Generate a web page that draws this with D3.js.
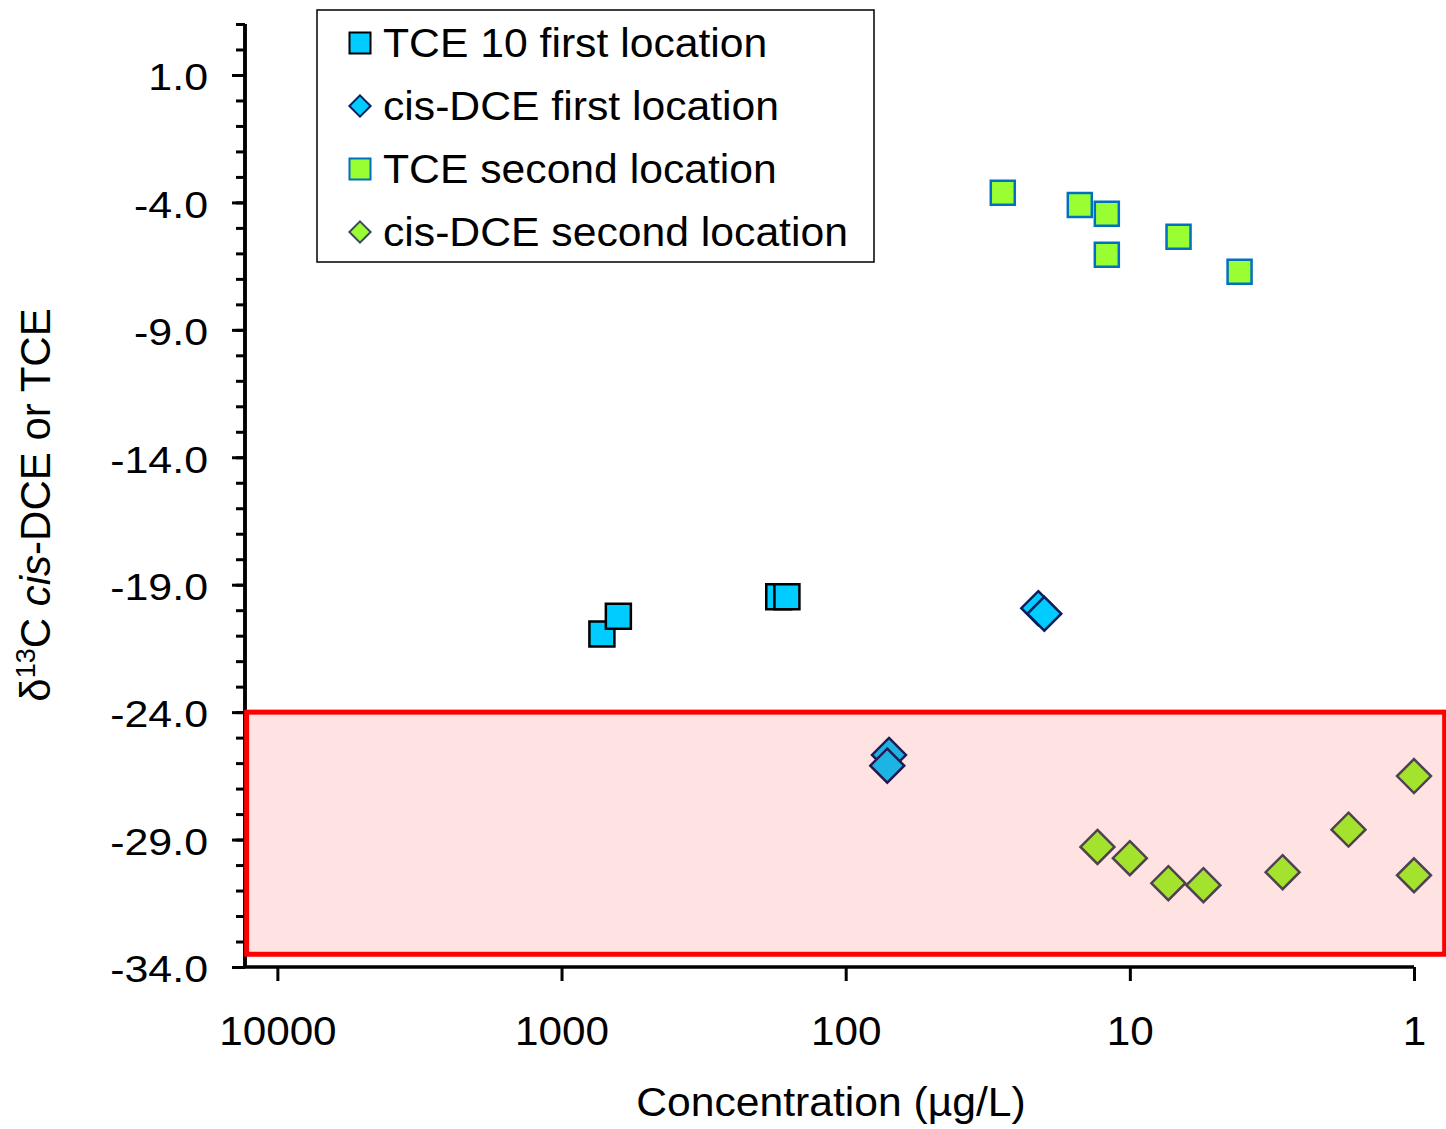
<!DOCTYPE html>
<html>
<head>
<meta charset="utf-8">
<script src="https://cdn.jsdelivr.net/npm/d3@7"></script>
<style>
  html, body { margin: 0; padding: 0; background: #ffffff; }
  svg { display: block; font-family: "Liberation Sans", Arial, sans-serif; }
</style>
</head>
<body>
<svg id="chart" width="1446" height="1129"></svg>
<script>
// Series: concentration (µg/L) and δ13C (‰)
const tceFirstConc = [721, 631, 172, 161];
const tceFirstD13C = [-20.93, -20.24, -19.47, -19.47];

const dceFirstConc = [21.0, 20.0, 70.4, 71.4];
const dceFirstD13C = [-19.92, -20.14, -25.68, -26.10];

const tceSecondConc = [28.0, 15.0, 12.05, 12.05, 6.74, 4.11];
const tceSecondD13C = [-3.62, -4.10, -4.45, -6.05, -5.35, -6.72];

const dceSecondConc = [13.0, 10.0, 7.32, 5.51, 2.90, 1.70, 1.0, 1.0];
const dceSecondD13C = [-29.29, -29.73, -30.71, -30.79, -30.28, -28.61, -26.51, -30.40];

// Axis settings
const xTickValues = [10000, 1000, 100, 10, 1];
const yMajorTicks = [1, -4, -9, -14, -19, -24, -29, -34];
const yMinorTicks = d3.range(-34, 4, 1);

// Highlighted band (concentration range, δ13C range)
const bandConc = [12830, 0.78];
const bandD13C = [-24, -33.5];

const legendLabels = ["TCE 10 first location", "cis-DCE first location", "TCE second location", "cis-DCE second location"];

const svg = d3.select("#chart");

const x = d3.scaleLog().domain([13000, 1]).range([245, 1414]);
const y = d3.scaleLinear().domain([-34, 3]).range([967, 24]);

// Widen glyphs horizontally by factor k, keeping the anchor in place
function widen(sel, k) {
  sel.each(function () {
    const len = this.getComputedTextLength();
    d3.select(this).attr("textLength", len * k).attr("lengthAdjust", "spacingAndGlyphs");
  });
}

// Styles per series
const series = [
  { conc: tceFirstConc, d13c: tceFirstD13C, shape: "square", size: 25, fill: "#00ccff", stroke: "#000000", sw: 2.5 },
  { conc: dceFirstConc, d13c: dceFirstD13C, shape: "diamond", size: 24, fill: "#00ccff", stroke: "#0a1e5e", sw: 2.5 },
  { conc: tceSecondConc, d13c: tceSecondD13C, shape: "square", size: 24, fill: "#99ff33", stroke: "#0070c0", sw: 2.5 },
  { conc: dceSecondConc, d13c: dceSecondD13C, shape: "diamond", size: 24, fill: "#99ff33", stroke: "#3a4a5c", sw: 2.5 }
];

// Axes
const yMinor = svg.append("g")
  .attr("transform", "translate(245,0)")
  .call(d3.axisLeft(y).tickValues(yMinorTicks).tickSize(9).tickFormat(""));
const yMajor = svg.append("g")
  .attr("transform", "translate(245,0)")
  .call(d3.axisLeft(y).tickValues(yMajorTicks).tickSize(13).tickPadding(24).tickFormat(d => d.toFixed(1)));
const xAxis = svg.append("g")
  .attr("transform", "translate(0,967)")
  .call(d3.axisBottom(x).tickValues(xTickValues).tickSize(14).tickPadding(35).tickFormat(d => String(d)));

[yMinor, yMajor, xAxis].forEach(g => {
  g.select(".domain").attr("stroke", "#000").attr("stroke-width", 3.5);
  g.selectAll(".tick line").attr("stroke", "#000").attr("stroke-width", 3);
});
yMinor.select(".domain").attr("d", `M0,${y(3)}V${y(-34)}`);
yMajor.select(".domain").attr("d", `M0,${y(3)}V${y(-34)}`);
xAxis.select(".domain").attr("d", `M${x(13000) - 1.5},0H${x(1)}`);
yMajor.selectAll(".tick text").attr("font-size", 37).attr("fill", "#000")
  .attr("font-family", "Liberation Sans, Arial, sans-serif").attr("y", 3);
xAxis.selectAll(".tick text").attr("font-size", 41).attr("fill", "#000").attr("font-family", "Liberation Sans, Arial, sans-serif");
widen(yMajor.selectAll(".tick text"), 1.16);
widen(xAxis.selectAll(".tick text"), 1.03);

// Markers
function markerPath(shape, s) {
  const h = s / 2;
  if (shape === "square") return `M${-h},${-h}H${h}V${h}H${-h}Z`;
  const d = h * Math.SQRT2;
  return `M0,${-d}L${d},0L0,${d}L${-d},0Z`;
}

series.forEach(sr => {
  svg.append("g").selectAll("path")
    .data(sr.conc.map((c, i) => [c, sr.d13c[i]]))
    .join("path")
    .attr("transform", d => `translate(${x(d[0])},${y(d[1])})`)
    .attr("d", markerPath(sr.shape, sr.size))
    .attr("fill", sr.fill)
    .attr("stroke", sr.stroke)
    .attr("stroke-width", sr.sw)
    .attr("stroke-linejoin", "miter");
});

// Highlight band drawn over the markers
svg.append("rect")
  .attr("x", x(bandConc[0]))
  .attr("y", y(bandD13C[0]))
  .attr("width", x(bandConc[1]) - x(bandConc[0]))
  .attr("height", y(bandD13C[1]) - y(bandD13C[0]))
  .attr("fill", "rgba(255,0,0,0.11)")
  .attr("stroke", "#ff0000")
  .attr("stroke-width", 5);

// Legend
const legend = svg.append("g");
legend.append("rect")
  .attr("x", 317).attr("y", 10).attr("width", 557).attr("height", 252)
  .attr("fill", "#fff").attr("stroke", "#000").attr("stroke-width", 1.5);
legendLabels.forEach((lab, i) => {
  const cy = 43 + i * 63;
  const sr = series[i];
  legend.append("path")
    .attr("transform", `translate(360,${cy})`)
    .attr("d", markerPath(sr.shape, sr.shape === "square" ? 21 : 15))
    .attr("fill", sr.fill).attr("stroke", sr.stroke).attr("stroke-width", 2);
  legend.append("text")
    .attr("x", 383).attr("y", cy + 14)
    .attr("font-size", 40)
    .attr("fill", "#000")
    .text(lab);
});
widen(legend.selectAll("text"), 1.067);

// Axis titles
const xTitle = svg.append("text")
  .attr("x", 831)
  .attr("y", 1116)
  .attr("text-anchor", "middle")
  .attr("font-size", 41)
  .text("Concentration (µg/L)");
widen(xTitle, 1.04);

const yTitle = svg.append("text")
  .attr("transform", "translate(50,505) rotate(-90)")
  .attr("text-anchor", "middle")
  .attr("font-size", 42);
yTitle.append("tspan").text("δ");
yTitle.append("tspan").attr("font-size", 27).attr("dy", -15).text("13");
yTitle.append("tspan").attr("dy", 15).text("C ");
yTitle.append("tspan").attr("font-style", "italic").text("cis");
yTitle.append("tspan").text("-DCE or TCE");
</script>
</body>
</html>
